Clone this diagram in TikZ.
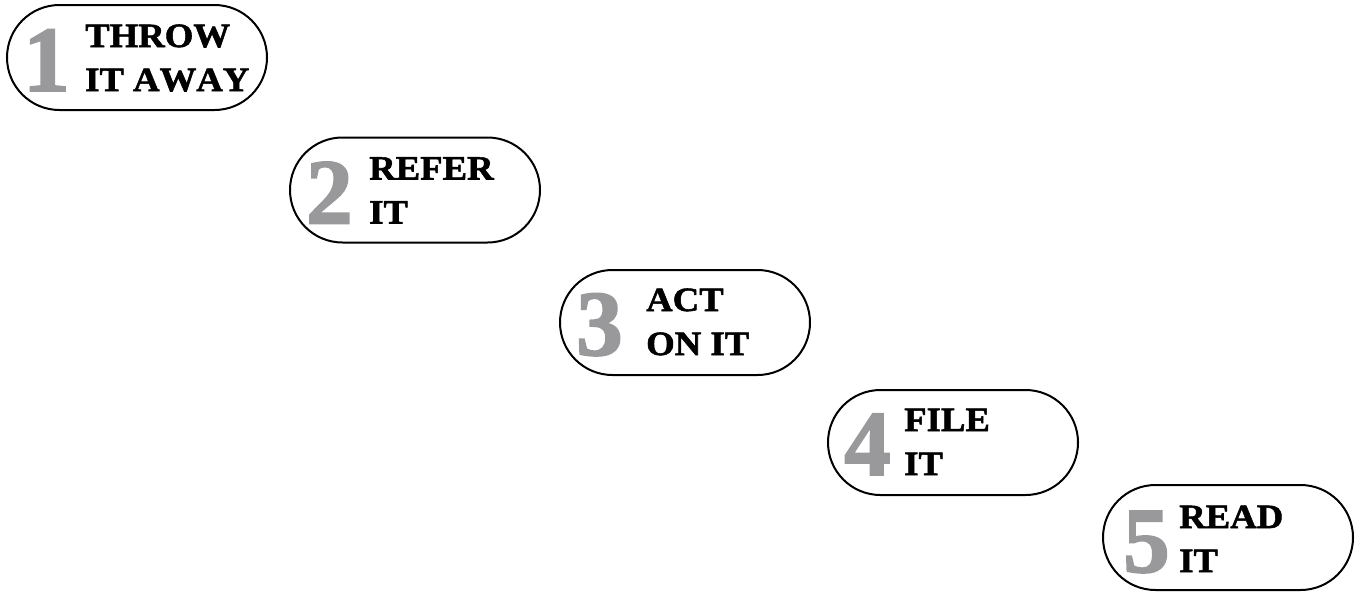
\documentclass[tikz,border=0pt]{standalone}
\usepackage{fontspec}
\setmainfont{Liberation Serif}
\newfontfamily\stagefont[FakeStretch=1.08,FakeBold=1.6,Kerning=Off]{Liberation Serif}
\newfontfamily\digitfont[FakeBold=2]{Liberation Serif}
\usepackage{xcolor}
\usetikzlibrary{positioning}

\definecolor{numgray}{RGB}{153,153,156}

\begin{document}
\begin{tikzpicture}[
  x=1pt, y=-1pt,
  stage/.style={draw, line width=2pt, rounded corners=52.5pt, minimum width=250pt, minimum height=105pt, inner sep=0pt},
  num/.style={anchor=base west, inner sep=0pt, text=numgray, font=\digitfont\bfseries\fontsize{93}{93}\selectfont},
  label/.style={anchor=base west, inner sep=0pt, align=left, font=\stagefont\bfseries\fontsize{34}{44}\selectfont}
]
\useasboundingbox (0,0) rectangle (1355,592);

\node[stage, minimum width=260pt] (s1) at (137,57.5) {};
\node[stage] (s2) at (415,190) {};
\node[stage] (s3) at (685,322.5) {};
\node[stage] (s4) at (953,442.5) {};
\node[stage] (s5) at (1228,537.5) {};

\node[num] (n1) at ([xshift=17pt,yshift=20pt]s1.south west) {1};
\node[num] (n2) at ([xshift=17pt,yshift=20pt]s2.south west) {2};
\node[num] (n3) at ([xshift=17pt,yshift=21pt]s3.south west) {3};
\node[num] (n4) at ([xshift=17pt,yshift=21pt]s4.south west) {4};
\node[num] (n5) at ([xshift=21pt,yshift=19pt]s5.south west) {5};

\node[label] (t1) at ([xshift=79pt,yshift=20pt]s1.south west) {THROW\\IT AWAY};
\node[label] (t2) at ([xshift=80pt,yshift=20pt]s2.south west) {REFER\\IT};
\node[label] (t3) at ([xshift=87pt,yshift=21pt]s3.south west) {ACT\\ON IT};
\node[label] (t4) at ([xshift=77pt,yshift=21pt]s4.south west) {FILE\\IT};
\node[label] (t5) at ([xshift=77pt,yshift=19pt]s5.south west) {READ\\IT};
\end{tikzpicture}
\end{document}
